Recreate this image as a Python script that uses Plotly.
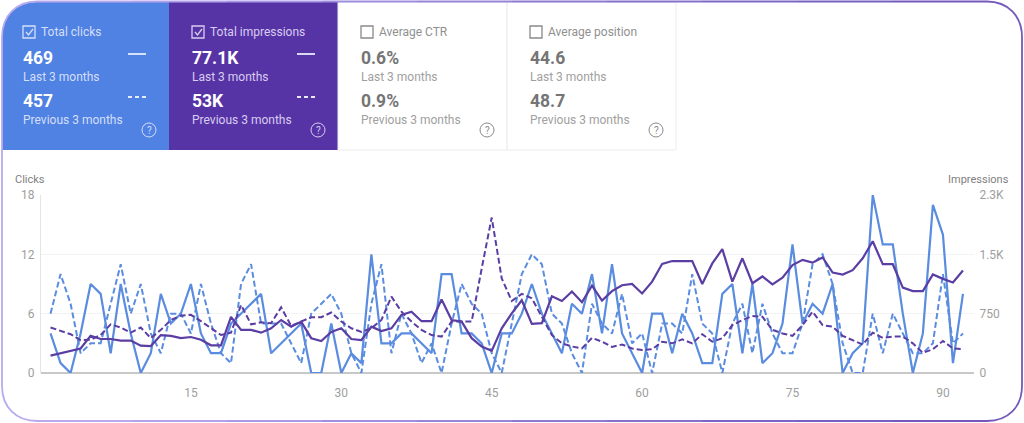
import plotly.graph_objects as go

# Data
days = list(range(1, 93))

clicks_last = [4, 1, 0, 4, 9, 8, 2, 9, 4, 0, 2, 8, 5, 6, 9, 4, 2, 2, 5, 6, 7, 8, 2, 3, 4, 5, 0, 0, 5, 0,
               2, 1, 12, 3, 3, 4, 4, 3, 2, 10, 10, 4, 4, 3, 0, 4, 4, 6, 9, 6, 4, 2, 7, 6, 10, 4, 11, 4, 2, 0,
               6, 6, 2, 6, 4, 1, 1, 8, 9, 2, 9, 1, 2, 5, 13, 5, 7, 6, 9, 0, 2, 3, 18, 13, 13, 6, 0, 4, 17, 14,
               1, 8]
clicks_prev = [6, 10, 7, 2, 3, 3, 7, 11, 6, 9, 4, 2, 6, 6, 4, 9, 5, 2, 1, 9, 11, 5, 5, 5, 3, 1, 6, 7, 8, 6,
               2, 0, 7, 11, 2, 6, 4, 1, 3, 0, 5, 9, 7, 6, 2, 0, 5, 10, 12, 11, 6, 5, 2, 0, 7, 5, 4, 8, 3, 4,
               0, 5, 5, 4, 10, 5, 4, 0, 5, 7, 2, 7, 4, 2, 2, 5, 11, 12, 9, 3, 0, 0, 6, 2, 6, 4, 2, 2, 3, 10,
               3, 4]
impressions_last = [220, 250, 280, 310, 470, 430, 430, 410, 410, 345, 340, 480, 470, 440, 455, 420, 350, 350, 710, 545,
                    545, 510, 565, 670, 585, 650, 440, 405, 520, 565, 430, 415, 585, 530, 565, 735, 775, 655, 655, 930,
                    670, 650, 440, 335, 280, 565, 755, 920, 620, 630, 970, 910, 1030, 895, 1105, 915, 1035, 1110, 1125, 1005,
                    1155, 1380, 1415, 1415, 1415, 1125, 1385, 1565, 1155, 1450, 1135, 1220, 1120, 1205, 1365, 1430, 1395, 1460, 1270, 1245,
                    1300, 1450, 1665, 1375, 1375, 1080, 1035, 1035, 1245, 1190, 1145, 1295]
impressions_prev = [575, 535, 490, 415, 420, 480, 615, 575, 510, 575, 440, 545, 670, 725, 735, 655, 565, 480, 510, 860,
                    615, 640, 630, 830, 595, 650, 705, 705, 765, 650, 565, 520, 565, 670, 965, 775, 650, 545, 480, 460,
                    650, 650, 650, 1320, 1965, 1195, 910, 1000, 945, 710, 480, 375, 335, 310, 445, 395, 330, 360, 310, 290,
                    300, 395, 375, 425, 375, 490, 395, 440, 605, 670, 720, 710, 545, 500, 470, 605, 775, 605, 585, 470,
                    415, 360, 510, 445, 460, 460, 375, 255, 300, 405, 310, 300]

x_ticks = [15, 30, 45, 60, 75, 90]
clicks_ticks = [0, 6, 12, 18]
impressions_ticks = [0, 750, 1500, 2250]
impressions_labels = ["0", "750", "1.5K", "2.3K"]

card_titles = ["Total clicks", "Total impressions", "Average CTR", "Average position"]
card_last = ["469", "77.1K", "0.6%", "44.6"]
card_prev = ["457", "53K", "0.9%", "48.7"]

BLUE = "#4f82e3"
PURPLE = "#5734a6"
LINE_BLUE = "#5a8cdf"
LINE_PURPLE = "#5a3ea3"
FONT = "Roboto"

# plot area in page pixels
LEFT, RIGHT, TOP, BOTTOM = 41, 974, 195, 373


def px(x):
    return (x - LEFT) / (RIGHT - LEFT)


def py(y):
    return (BOTTOM - y) / (BOTTOM - TOP)


def pt(x, y):
    return f"{px(x):.5f},{py(y):.5f}"


shapes = []
annotations = []


def box(x0, y0, x1, y1, fill="rgba(0,0,0,0)", line=None, width=1):
    shapes.append(dict(type="rect", xref="paper", yref="paper", x0=px(x0), x1=px(x1), y0=py(y0), y1=py(y1),
                       fillcolor=fill, line=dict(color=line or "rgba(0,0,0,0)", width=width)))


def seg(x0, y0, x1, y1, color, width=1.5, dash="solid"):
    shapes.append(dict(type="line", xref="paper", yref="paper", x0=px(x0), x1=px(x1), y0=py(y0), y1=py(y1),
                       line=dict(color=color, width=width, dash=dash)))


def path(d, color, width=2, fill=None):
    shapes.append(dict(type="path", xref="paper", yref="paper", path=d,
                       fillcolor=fill or "rgba(0,0,0,0)", line=dict(color=color, width=width)))


def label(x, y, text, size, color, bold=False, anchor="left"):
    annotations.append(dict(xref="paper", yref="paper", x=px(x), y=py(y), text=f"<b>{text}</b>" if bold else text,
                            showarrow=False, xanchor=anchor, yanchor="middle", align=anchor,
                            borderpad=0, font=dict(family=FONT, size=size, color=color)))


# cards
path(f"M{pt(2, 150)} L{pt(2, 36)} C{pt(2, 16)} {pt(16, 2)} {pt(36, 2)} L{pt(169, 2)} L{pt(169, 150)} Z",
     "rgba(0,0,0,0)", 0, BLUE)
box(169, 2, 338, 150, fill=PURPLE)
box(338, 2, 507, 150, fill="#ffffff", line="#ececec")
box(507, 2, 676, 150, fill="#ffffff", line="#ececec")

for i, title in enumerate(card_titles):
    x = 169 * i
    active = i < 2
    text_c = "#ffffff" if active else "#757575"
    soft_c = "#d5dffa" if active else "#9a9a9a"
    if i == 1:
        soft_c = "#d8cdf0"
    icon_c = soft_c if active else "#8a8a8a"
    box(x + 23, 26, x + 35, 38, line=icon_c, width=1.3)
    if active:
        path(f"M{pt(x + 26, 32)} L{pt(x + 28.5, 35)} L{pt(x + 33, 29)}", icon_c, 1.3)
    label(x + 40, 32, title, 12, soft_c if active else "#909090")
    label(x + 21.5, 58, card_last[i], 17.5, text_c, bold=True)
    label(x + 21.5, 77, "Last 3 months", 12, soft_c if active else "#a0a0a0")
    label(x + 21.5, 101, card_prev[i], 17.5, text_c, bold=True)
    label(x + 21.5, 120, "Previous 3 months", 12, soft_c if active else "#a0a0a0")
    if active:
        seg(x + 128, 54, x + 146, 54, "#e6ecfb", 1.8)
        seg(x + 128, 97, x + 146, 97, "#e6ecfb", 1.8, "4px,3px")
    cx = x + 149
    shapes.append(dict(type="circle", xref="paper", yref="paper", x0=px(cx - 7), x1=px(cx + 7), y0=py(137), y1=py(123),
                       line=dict(color=icon_c, width=1)))
    label(cx, 130, "?", 10, icon_c, anchor="center")

# rounded frame, lavender on the left fading to purple on the right
frame_stops = ["#b9aaf0", "#b3a3ec", "#aa99e6", "#a08ee0", "#9785d9", "#8e7ad2", "#8670cb", "#7e66c5", "#7860c0", "#7459bc"]
step = (987 - 37) / len(frame_stops)
for i, c in enumerate(frame_stops):
    seg(37 + i * step, 1.5, 37 + (i + 1) * step, 1.5, c, 1.8)
    seg(37 + i * step, 421, 37 + (i + 1) * step, 421, c, 1.8)
path(f"M{pt(37, 1.5)} C{pt(16, 1.5)} {pt(2, 16)} {pt(2, 37)} L{pt(2, 386)} C{pt(2, 407)} {pt(16, 421)} {pt(37, 421)}",
     frame_stops[0], 1.8)
path(f"M{pt(987, 1.5)} C{pt(1008, 1.5)} {pt(1022, 16)} {pt(1022, 37)} L{pt(1022, 386)} C{pt(1022, 407)} {pt(1008, 421)} {pt(987, 421)}",
     frame_stops[-1], 1.8)

label(14, 179, "Clicks", 11, "#808080")
label(1010, 179, "Impressions", 11, "#808080", anchor="right")

fig = go.Figure()

fig.add_trace(go.Scatter(x=days, y=clicks_prev, mode="lines", name="Clicks, previous 3 months",
                         line=dict(color=LINE_BLUE, width=2, dash="6px,3px")))
fig.add_trace(go.Scatter(x=days, y=clicks_last, mode="lines", name="Clicks, last 3 months",
                         line=dict(color=LINE_BLUE, width=2.2)))
fig.add_trace(go.Scatter(x=days, y=impressions_prev, mode="lines", name="Impressions, previous 3 months",
                         yaxis="y2", line=dict(color=LINE_PURPLE, width=2, dash="6px,3px")))
fig.add_trace(go.Scatter(x=days, y=impressions_last, mode="lines", name="Impressions, last 3 months",
                         yaxis="y2", line=dict(color=LINE_PURPLE, width=2.2)))

tick_font = dict(family=FONT, size=12, color="#9e9e9e")

fig.update_layout(
    width=1024,
    height=423,
    margin=dict(l=LEFT, r=1024 - RIGHT, t=TOP, b=423 - BOTTOM, pad=0),
    paper_bgcolor="#ffffff",
    plot_bgcolor="#ffffff",
    showlegend=False,
    xaxis=dict(range=[0.05, 93.1], tickvals=x_ticks, showgrid=False, zeroline=False, showline=False,
               tickfont=tick_font, ticks="outside", ticklen=9, tickcolor="rgba(0,0,0,0)"),
    yaxis=dict(range=[0, 18], tickvals=clicks_ticks, gridcolor="#f3f3f3", gridwidth=1, zeroline=True,
               zerolinecolor="#c8c8c8", zerolinewidth=1.5, showline=True, linecolor="#e4e4e4", linewidth=1,
               tickfont=tick_font, ticks="outside", ticklen=3, tickcolor="rgba(0,0,0,0)"),
    yaxis2=dict(range=[0, 2250], tickvals=impressions_ticks, ticktext=impressions_labels, overlaying="y", side="right",
                showgrid=False, zeroline=False, showline=False,
                tickfont=tick_font, ticks="outside", ticklen=2, tickcolor="rgba(0,0,0,0)"),
    shapes=shapes,
    annotations=annotations,
)

fig.write_html("out.html", post_script="document.body.style.margin='0';document.body.style.overflow='hidden';",
               config=dict(displayModeBar=False))
